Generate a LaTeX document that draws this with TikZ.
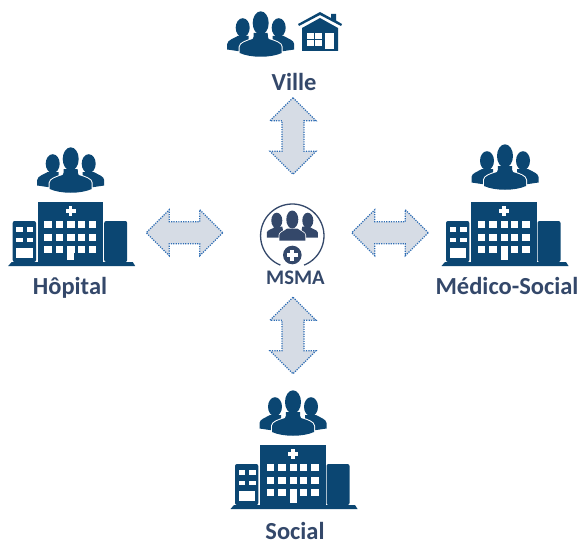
\documentclass[tikz,border=0pt]{standalone}
\usepackage{fontspec}
\setmainfont{Carlito}
\usetikzlibrary{shapes.arrows}
\definecolor{navy}{HTML}{0B4672}
\definecolor{slate}{HTML}{34486A}
\definecolor{arrowfill}{HTML}{D6DCE5}
\definecolor{arrowline}{HTML}{2E6DB4}
\tikzset{
  crowd/.pic={
    \fill[pic actions] (-18,-29.3) ellipse [x radius=7, y radius=9.5];
    \fill[pic actions] (18,-29.3) ellipse [x radius=7, y radius=9.5];
    \fill[pic actions] (-33.5,-7.5) -- (-33.5,-13) .. controls (-33,-17) and (-28,-18) .. (-23,-21) -- (-12,-21) -- (-12,-4) -- (-20,-5.5) -- cycle;
    \fill[pic actions] (33.5,-7.5) -- (33.5,-13) .. controls (33,-17) and (28,-18) .. (23,-21) -- (12,-21) -- (12,-4) -- (20,-5.5) -- cycle;
    \path[draw=white, fill=white, line width=2pt] (-21,-4) -- (-21,-10) .. controls (-21,-14) and (-14,-16) .. (-8,-18) -- (8,-18) .. controls (14,-16) and (21,-14) .. (21,-10) -- (21,-4) .. controls (10,1) and (-10,1) .. cycle;
    \fill[pic actions] (0,-34) ellipse [x radius=8, y radius=11.7];
    \fill[pic actions] (-21,-4) -- (-21,-10) .. controls (-21,-14) and (-14,-16) .. (-8,-18) .. controls (-7,-19) and (-7,-21) .. (-7,-24) -- (7,-24) .. controls (7,-21) and (7,-19) .. (8,-18) .. controls (14,-16) and (21,-14) .. (21,-10) -- (21,-4) .. controls (10,1) and (-10,1) .. cycle;
  },
  hospital/.pic={
    % base, wings and main block, origin at the cross
    \fill[pic actions] (-59,51) -- (62,51) -- (64.5,55) -- (-62.5,55) -- cycle;
    \fill[pic actions] (-33,-9) rectangle (32.5,51);
    \fill[pic actions, rounded corners=2pt] (-34.7,51) -- (-34.7,10) -- (-58,10) -- (-58,51) -- cycle;
    \fill[pic actions, rounded corners=2pt] (33.5,51) -- (33.5,10) -- (56.5,10) -- (56.5,51) -- cycle;
    \foreach \col in {-26.5,-14.7,-3.3,7,18.3} {
      \fill[white] (\col,10) rectangle ++(7.3,7);
      \fill[white] (\col,22.7) rectangle ++(7.3,7);
      \fill[white] (\col,35) rectangle ++(7.3,7);
    }
    \fill[white] (-3.3,35) rectangle (3.7,49);
    \foreach \col in {-54.5,-44} {
      \fill[white] (\col,16) rectangle ++(6.5,4.5);
      \fill[white] (\col,26.5) rectangle ++(6.5,4.5);
    }
    \fill[white] (-54.5,37) rectangle (-38,47);
    \fill[white] (-1.6,-5) rectangle (1.6,5);
    \fill[white] (-5,-1.6) rectangle (5,1.6);
  }
}
\begin{document}
\begin{tikzpicture}[x=1pt,y=-1pt]
  \tikzstyle{place}=[font=\fontsize{24.5}{26}\selectfont\bfseries, text=slate, inner sep=0pt, anchor=base]
  \tikzstyle{flow}=[double arrow, draw=arrowline, fill=arrowfill, line width=1.2pt, dash pattern=on 1.2pt off 1.2pt, minimum height=76.5pt, inner xsep=0pt, inner ysep=10.35pt, double arrow head extend=12pt]
  \tikzstyle{staff}=[fill=navy]
  \useasboundingbox (0,0) rectangle (578,543);

  % Ville
  \pic[staff] (villestaff) at (260.7,57) {crowd};
  \fill[navy] (320,12) -- (331,18) -- (331,14) -- (336,14) -- (336,20.5) -- (342,24) -- (341,26) -- (320,15) -- (299,26) -- (298,24) -- cycle;
  \fill[navy] (320,18) -- (338,28) -- (338,51) -- (302,51) -- (302,28) -- cycle;
  \foreach \wx/\wy in {307/33,315/33,307/40.5,315/40.5} {
    \fill[white] (\wx,\wy) rectangle ++(6.5,6);
  }
  \fill[white] (325,33) rectangle (334,49);
  \node[place] (ville) at (294,90.7) {Ville};

  % Hopital
  \pic[staff] (hopitalstaff) at (70.7,193) {crowd};
  \pic[staff] (hopital) at (70.7,211) {hospital};
  \node[place] (hopitaltext) at (70,294) {Hôpital};

  % Medico-Social
  \pic[staff] (medicostaff) at (505,190) {crowd};
  \pic[staff] (medico) at (504,211) {hospital};
  \node[place] (medicotext) at (507,294.5) {Médico-Social};

  % Social
  \pic[staff] (socialstaff) at (293,436) {crowd};
  \pic[staff] (social) at (293,454) {hospital};
  \node[place] (socialtext) at (295,539.5) {Social};

  % MSMA
  \draw[slate, line width=1.3pt] (280.4,265.1) arc [start angle=112, end angle=428, radius=31.7];
  \begin{scope}[shift={(292.3,240.5)}]
    \fill[slate] (-15.5,-20) ellipse [x radius=5.5, y radius=7.8];
    \fill[slate] (15.5,-20) ellipse [x radius=5.5, y radius=7.8];
    \fill[slate] (-25.5,-3) -- (-25.5,-8) .. controls (-25,-11) and (-20,-11) .. (-17,-14) -- (-10,-14) -- (-8,-3) -- cycle;
    \fill[slate] (25.5,-3) -- (25.5,-8) .. controls (25,-11) and (20,-11) .. (17,-14) -- (10,-14) -- (8,-3) -- cycle;
    \path[draw=white, fill=white, line width=1.5pt] (-13,0) -- (-13,-5) .. controls (-13,-8) and (-9,-9) .. (-5,-12) -- (5,-12) .. controls (9,-9) and (13,-8) .. (13,-5) -- (13,0) -- cycle;
    \fill[slate] (0,-21) ellipse [x radius=6, y radius=9];
    \fill[slate] (-13,0) -- (-13,-5) .. controls (-13,-8) and (-9,-9) .. (-5,-12) -- (5,-12) .. controls (9,-9) and (13,-8) .. (13,-5) -- (13,0) -- cycle;
  \end{scope}
  \node[circle, fill=slate, minimum size=18.6pt, inner sep=0pt] (plusdisc) at (292.3,255) {};
  \fill[white] (290.4,249.5) rectangle (294.2,260.5);
  \fill[white] (286.8,253.1) rectangle (297.8,256.9);
  \node[place, font=\fontsize{20.7}{22}\selectfont\bfseries] (msma) at (295.5,284) {MSMA};

  % arrows
  \node[flow] (flowleft) at (184.5,232.7) {};
  \node[flow] (flowright) at (390,232.7) {};
  \node[flow, rotate=90] (flowtop) at (293,136) {};
  \node[flow, rotate=90] (flowbottom) at (293,335.5) {};
\end{tikzpicture}
\end{document}
